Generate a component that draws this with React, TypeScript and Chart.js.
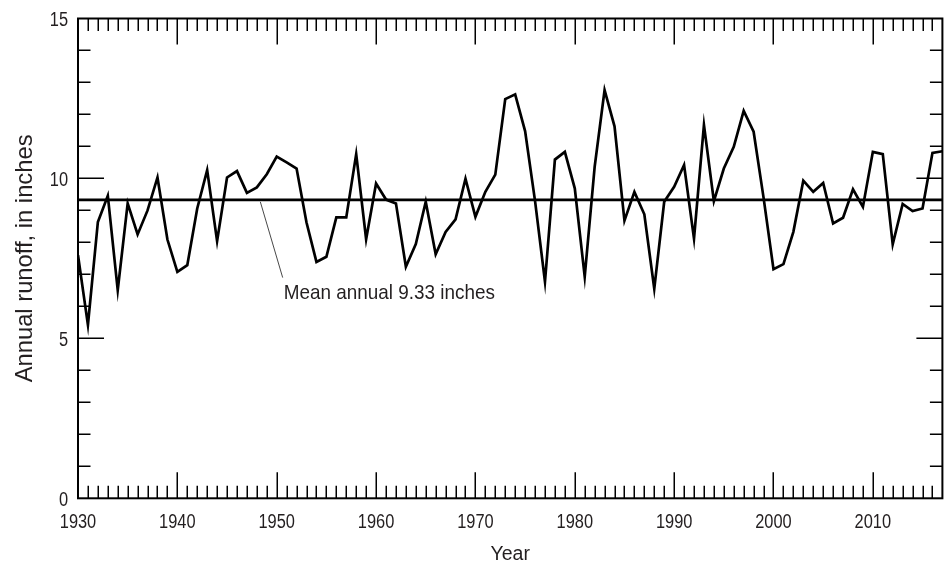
import React, { useEffect, useRef } from "react";
import { Chart, registerables } from "chart.js";

Chart.register(...registerables);

// ---- Data ----
const years: number[] = [
  1930, 1931, 1932, 1933, 1934, 1935, 1936, 1937, 1938, 1939,
  1940, 1941, 1942, 1943, 1944, 1945, 1946, 1947, 1948, 1949,
  1950, 1951, 1952, 1953, 1954, 1955, 1956, 1957, 1958, 1959,
  1960, 1961, 1962, 1963, 1964, 1965, 1966, 1967, 1968, 1969,
  1970, 1971, 1972, 1973, 1974, 1975, 1976, 1977, 1978, 1979,
  1980, 1981, 1982, 1983, 1984, 1985, 1986, 1987, 1988, 1989,
  1990, 1991, 1992, 1993, 1994, 1995, 1996, 1997, 1998, 1999,
  2000, 2001, 2002, 2003, 2004, 2005, 2006, 2007, 2008, 2009,
  2010, 2011, 2012, 2013, 2014, 2015, 2016, 2017,
];

const runoff: number[] = [
  7.6, 5.42, 8.64, 9.46, 6.51, 9.22, 8.25, 9.0, 10.03, 8.09,
  7.08, 7.29, 9.06, 10.26, 8.04, 10.03, 10.23, 9.55, 9.72, 10.13,
  10.68, 10.5, 10.31, 8.62, 7.39, 7.55, 8.78, 8.78, 10.76, 8.1,
  9.84, 9.34, 9.22, 7.24, 7.95, 9.27, 7.63, 8.33, 8.72, 9.99,
  8.8, 9.58, 10.12, 12.48, 12.63, 11.48, 9.3, 6.77, 10.59, 10.83,
  9.69, 6.93, 10.36, 12.76, 11.63, 8.68, 9.58, 8.88, 6.55, 9.27,
  9.74, 10.42, 8.12, 11.67, 9.29, 10.31, 10.99, 12.11, 11.46, 9.4,
  7.16, 7.32, 8.33, 9.93, 9.58, 9.86, 8.59, 8.77, 9.66, 9.11,
  10.83, 10.76, 7.94, 9.2, 8.98, 9.06, 10.8, 10.85,
];

const meanAnnual = 9.33;
const meanLabel = "Mean annual 9.33 inches";
const xTitle = "Year";
const yTitle = "Annual runoff, in inches";

const xMin = 1930;
const xMax = 2017;
const yMin = 0;
const yMax = 15;

// ---- Styles ----
const FONT = "'Liberation Sans', Arial, sans-serif";
const TEXT = "#231f20";

function scaledText(
  ctx: CanvasRenderingContext2D,
  text: string,
  x: number,
  y: number,
  size: number,
  sx: number,
  align: CanvasTextAlign,
  rotate = 0
) {
  ctx.save();
  ctx.translate(x, y);
  if (rotate) ctx.rotate(rotate);
  ctx.scale(sx, 1);
  ctx.font = `${size}px ${FONT}`;
  ctx.textAlign = align;
  ctx.textBaseline = "alphabetic";
  ctx.fillStyle = TEXT;
  ctx.fillText(text, 0, 0);
  ctx.restore();
}

const framePlugin = {
  id: "frameTicks",
  afterDatasetsDraw(chart: any) {
    const { ctx, chartArea, scales } = chart;
    const xs = scales.x;
    const ys = scales.y;
    const { left, right, top, bottom } = chartArea;
    ctx.save();
    ctx.strokeStyle = "#000";
    ctx.lineWidth = 1.5;
    ctx.beginPath();
    for (let yr = xMin + 1; yr < xMax; yr++) {
      const px = Math.round(xs.getPixelForValue(yr)) + 0.25;
      const len = yr % 10 === 0 ? 26 : 12.5;
      ctx.moveTo(px, bottom);
      ctx.lineTo(px, bottom - len);
      ctx.moveTo(px, top);
      ctx.lineTo(px, top + len);
    }
    for (let v = yMin + 1; v < yMax; v++) {
      const py = Math.round(ys.getPixelForValue(v)) + 0.25;
      const len = v % 5 === 0 ? 26 : 12.5;
      ctx.moveTo(left, py);
      ctx.lineTo(left + len, py);
      ctx.moveTo(right, py);
      ctx.lineTo(right - len, py);
    }
    ctx.stroke();
    ctx.lineWidth = 2;
    ctx.strokeRect(left, top, right - left, bottom - top);

    // tick labels from the scales
    for (const t of xs.ticks) {
      scaledText(ctx, String(t.value), xs.getPixelForValue(t.value), bottom + 29.7, 20, 0.82, "center");
    }
    for (const t of ys.ticks) {
      scaledText(ctx, String(t.value), left - 10, ys.getPixelForValue(t.value) + 7.2, 20, 0.82, "right");
    }

    // axis titles
    scaledText(ctx, xTitle, (left + right) / 2, 560, 19.5, 1.0, "center");
    scaledText(ctx, yTitle, 32, (top + bottom) / 2, 24, 0.99, "center", -Math.PI / 2);

    // leader line and annotation
    ctx.strokeStyle = "#333";
    ctx.lineWidth = 0.9;
    ctx.beginPath();
    ctx.moveTo(xs.getPixelForValue(1948.35), ys.getPixelForValue(9.27));
    ctx.lineTo(xs.getPixelForValue(1950.6), ys.getPixelForValue(6.9));
    ctx.stroke();
    scaledText(ctx, meanLabel, xs.getPixelForValue(1950.7), ys.getPixelForValue(6.23), 21, 0.9, "left");
    ctx.restore();
  },
};

export default function App() {
  const ref = useRef<HTMLCanvasElement | null>(null);
  useEffect(() => {
    if (!ref.current) return;
    const chart = new Chart(ref.current, {
      type: "line",
      data: {
        datasets: [
          {
            data: years.map((y, i) => ({ x: y, y: runoff[i] })),
            borderColor: "#000",
            borderWidth: 2.7,
            pointRadius: 0,
            tension: 0,
            borderJoinStyle: "miter",
          },
          {
            data: [
              { x: xMin, y: meanAnnual },
              { x: xMax, y: meanAnnual },
            ],
            borderColor: "#000",
            borderWidth: 2.7,
            pointRadius: 0,
          },
        ],
      },
      options: {
        responsive: false,
        animation: false,
        events: [],
        layout: { padding: { top: 18.5, right: 6.6, left: 0, bottom: 0 } },
        plugins: { legend: { display: false }, tooltip: { enabled: false } },
        scales: {
          x: {
            type: "linear",
            min: xMin,
            max: xMax,
            grid: { display: false, drawTicks: false },
            border: { display: false },
            afterBuildTicks: (s: any) => {
              s.ticks = s.ticks.filter((t: any) => t.value % 10 === 0);
            },
            afterFit: (s: any) => {
              s.height = 63.7;
            },
            ticks: { display: false, stepSize: 10, autoSkip: false, maxRotation: 0 },
            title: { display: false, text: xTitle },
          },
          y: {
            type: "linear",
            min: yMin,
            max: yMax,
            grid: { display: false, drawTicks: false },
            border: { display: false },
            afterFit: (s: any) => {
              s.width = 78;
            },
            ticks: { display: false, stepSize: 5 },
            title: { display: false, text: yTitle },
          },
        },
      },
      plugins: [framePlugin],
    } as any);
    return () => chart.destroy();
  }, []);
  return (
    <div style={{ position: "fixed", left: 0, top: 0, width: 949, height: 562, background: "#fff" }}>
      <canvas ref={ref} width={949} height={562} style={{ width: 949, height: 562, display: "block" }} />
    </div>
  );
}
